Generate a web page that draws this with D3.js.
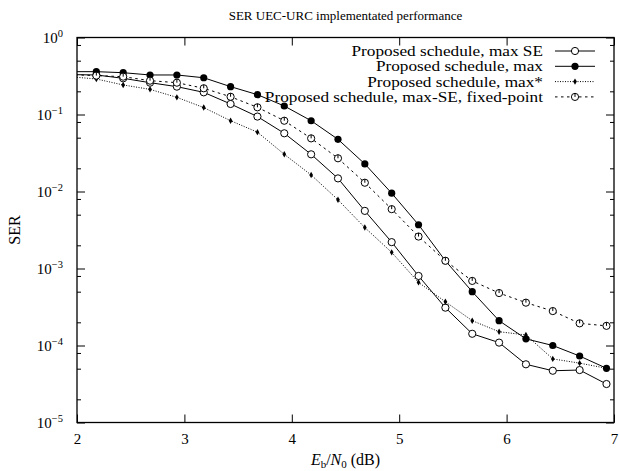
<!DOCTYPE html>
<html>
<head>
<meta charset="utf-8">
<script src="https://cdn.jsdelivr.net/npm/d3@7"></script>
<style>
  body { margin: 0; background: #fff; }
  svg { display: block; }
</style>
</head>
<body>
<svg width="619" height="471" font-family="'Liberation Serif', 'DejaVu Serif', serif"></svg>
<script>
// Eb/N0 (dB); the first point lies left of the frame and is clipped
const ebno = [1.93, 2.18, 2.43, 2.68, 2.93, 3.18, 3.43, 3.68, 3.93, 4.18, 4.43,
  4.68, 4.93, 5.18, 5.43, 5.68, 5.93, 6.18, 6.43, 6.68, 6.93];

const serMaxSE = [0.33, 0.326, 0.295, 0.259, 0.23, 0.194, 0.137, 0.094, 0.057, 0.0304, 0.0148,
  0.0056, 0.0022, 8.0e-4, 3.1e-4, 1.42e-4, 1.09e-4, 5.7e-5, 4.7e-5, 4.8e-5, 3.16e-5];
const serMax = [0.36, 0.36, 0.349, 0.326, 0.326, 0.30, 0.23, 0.181, 0.129, 0.083, 0.0476,
  0.0228, 0.0095, 0.0037, 0.00126, 5.0e-4, 2.1e-4, 1.22e-4, 1.0e-4, 7.3e-5, 5.06e-5];
const serMaxStar = [0.31, 0.289, 0.242, 0.212, 0.167, 0.123, 0.083, 0.059, 0.0304, 0.0164, 0.0078,
  0.0034, 0.00162, 6.6e-4, 3.7e-4, 2.1e-4, 1.51e-4, 1.37e-4, 6.7e-5, 5.9e-5, 5.06e-5];
const serFixed = [0.33, 0.32, 0.31, 0.275, 0.259, 0.219, 0.170, 0.124, 0.083, 0.049, 0.027,
  0.013, 0.0059, 0.0026, 0.00126, 6.9e-4, 4.8e-4, 3.6e-4, 2.8e-4, 1.94e-4, 1.8e-4];

const seriesNames = [
  'Proposed schedule, max SE',
  'Proposed schedule, max',
  'Proposed schedule, max*',
  'Proposed schedule, max-SE, fixed-point'
];

const xTicks = [2, 3, 4, 5, 6, 7];
const yExponents = [0, -1, -2, -3, -4, -5];
const yMinorMantissas = [2, 5, 8];

const [width, height] = [619, 471];
const margin = {top: 37.5, right: 5, bottom: 48.5, left: 77};
const serif = "'Liberation Serif', 'DejaVu Serif', serif";

const svg = d3.select('svg');

const x = d3.scaleLinear().domain([2, 7]).range([margin.left, width - margin.right]);
const y = d3.scaleLog().domain([1e-5, 1]).range([height - margin.bottom, margin.top]);

const yMajor = yExponents.map(e => Math.pow(10, e));
const yMinor = [];
for (const e of yExponents.slice(1)) {
  for (const m of yMinorMantissas) yMinor.push(m * Math.pow(10, e));
}

svg.append('clipPath').attr('id', 'plot-clip')
  .append('rect')
    .attr('x', x(2)).attr('y', y(1))
    .attr('width', x(7) - x(2)).attr('height', y(1e-5) - y(1));

// ticks, inward on all four sides
const tickG = svg.append('g').attr('class', 'ticks');

tickG.append('g')
    .attr('transform', `translate(0,${y(1e-5)})`)
    .call(d3.axisBottom(x).tickValues(xTicks).tickSizeInner(-8).tickSizeOuter(0).tickPadding(11)
      .tickFormat(d3.format('d')))
    .call(g => g.select('.domain').remove())
    .call(g => g.attr('font-family', serif).attr('font-size', 15));

tickG.append('g')
    .attr('transform', `translate(0,${y(1)})`)
    .call(d3.axisTop(x).tickValues(xTicks).tickSizeInner(-8).tickSizeOuter(0).tickFormat(''))
    .call(g => g.select('.domain').remove());

for (const [vals, len] of [[yMajor, 8], [yMinor, 4]]) {
  tickG.append('g')
      .attr('transform', `translate(${x(2)},0)`)
      .call(d3.axisLeft(y).tickValues(vals).tickSizeInner(-len).tickSizeOuter(0).tickFormat(''))
      .call(g => g.select('.domain').remove());
  tickG.append('g')
      .attr('transform', `translate(${x(7)},0)`)
      .call(d3.axisRight(y).tickValues(vals).tickSizeInner(-len).tickSizeOuter(0).tickFormat(''))
      .call(g => g.select('.domain').remove());
}

// y tick labels 10^n
const yLabels = svg.append('g')
    .attr('font-size', 15)
    .attr('text-anchor', 'end')
  .selectAll('text')
  .data(yExponents)
  .join('text')
    .attr('x', x(2) - 14)
    .attr('y', d => y(Math.pow(10, d)) + 5);
yLabels.append('tspan').text('10');
yLabels.append('tspan')
    .attr('dy', -6)
    .attr('font-size', 10.5)
    .text(d => d === 0 ? '0' : '\u2212' + (-d));

// series
const series = [
  {name: seriesNames[0], values: serMaxSE, dash: null, marker: 'open'},
  {name: seriesNames[1], values: serMax, dash: null, marker: 'filled'},
  {name: seriesNames[2], values: serMaxStar, dash: '1,1.5', marker: 'diamond'},
  {name: seriesNames[3], values: serFixed, dash: '2.5,3.5', marker: 'tick'}
];

const line = d3.line()
    .x((d, i) => x(ebno[i]))
    .y(d => y(d));

function drawMarker(sel, kind) {
  if (kind === 'open' || kind === 'tick') {
    sel.append('circle').attr('r', 3.6).attr('fill', '#fff').attr('stroke', '#000').attr('stroke-width', 1);
    if (kind === 'tick') {
      sel.append('line').attr('x1', 0).attr('y1', 0).attr('x2', 0).attr('y2', -3.6)
          .attr('stroke', '#000').attr('stroke-width', 1);
    }
  } else if (kind === 'filled') {
    sel.append('circle').attr('r', 3.6).attr('fill', '#000');
  } else {
    sel.append('path').attr('d', d3.symbol(d3.symbolDiamond, 12)).attr('fill', '#000');
  }
}

const plot = svg.append('g').attr('clip-path', 'url(#plot-clip)');

for (const s of series) {
  plot.append('path')
      .attr('fill', 'none')
      .attr('stroke', '#000')
      .attr('stroke-width', 1)
      .attr('stroke-dasharray', s.dash)
      .attr('d', line(s.values));
}
for (const s of series) {
  plot.append('g')
    .selectAll('g')
    .data(s.values)
    .join('g')
      .attr('transform', (d, i) => `translate(${x(ebno[i])},${y(d)})`)
      .each(function() { drawMarker(d3.select(this), s.marker); });
}

// frame
svg.append('rect')
    .attr('x', x(2)).attr('y', y(1))
    .attr('width', x(7) - x(2)).attr('height', y(1e-5) - y(1))
    .attr('fill', 'none')
    .attr('stroke', '#000')
    .attr('stroke-width', 1.3);

// legend (text stretched a little, the original face is wider)
const legend = svg.append('g')
  .selectAll('g')
  .data(series)
  .join('g')
    .attr('transform', (d, i) => `translate(0,${51 + i * 15.3})`);

legend.append('text')
    .attr('transform', 'translate(543,5) scale(1.19,1)')
    .attr('text-anchor', 'end')
    .attr('font-size', 14.5)
    .text(d => d.name);

legend.append('line')
    .attr('x1', 555).attr('x2', 595)
    .attr('stroke', '#000')
    .attr('stroke-width', 1)
    .attr('stroke-dasharray', d => d.dash);

legend.append('g')
    .attr('transform', 'translate(575,0)')
    .each(function(d) { drawMarker(d3.select(this), d.marker); });

// title and axis labels
svg.append('text')
    .attr('x', (x(2) + x(7)) / 2)
    .attr('y', 20)
    .attr('text-anchor', 'middle')
    .attr('font-size', 13)
    .text('SER UEC-URC implementated performance');

svg.append('text')
    .attr('transform', `translate(20,${(y(1) + y(1e-5)) / 2}) rotate(-90)`)
    .attr('text-anchor', 'middle')
    .attr('font-size', 16)
    .text('SER');

const xLabel = svg.append('text')
    .attr('x', (x(2) + x(7)) / 2)
    .attr('y', 465)
    .attr('text-anchor', 'middle')
    .attr('font-size', 16);
xLabel.append('tspan').attr('font-style', 'italic').text('E');
xLabel.append('tspan').attr('font-size', 11).attr('dy', 3).text('b');
xLabel.append('tspan').attr('dy', -3).text('/');
xLabel.append('tspan').attr('font-style', 'italic').text('N');
xLabel.append('tspan').attr('font-size', 11).attr('dy', 3).text('0');
xLabel.append('tspan').attr('dy', -3).text(' (dB)');
</script>
</body>
</html>
